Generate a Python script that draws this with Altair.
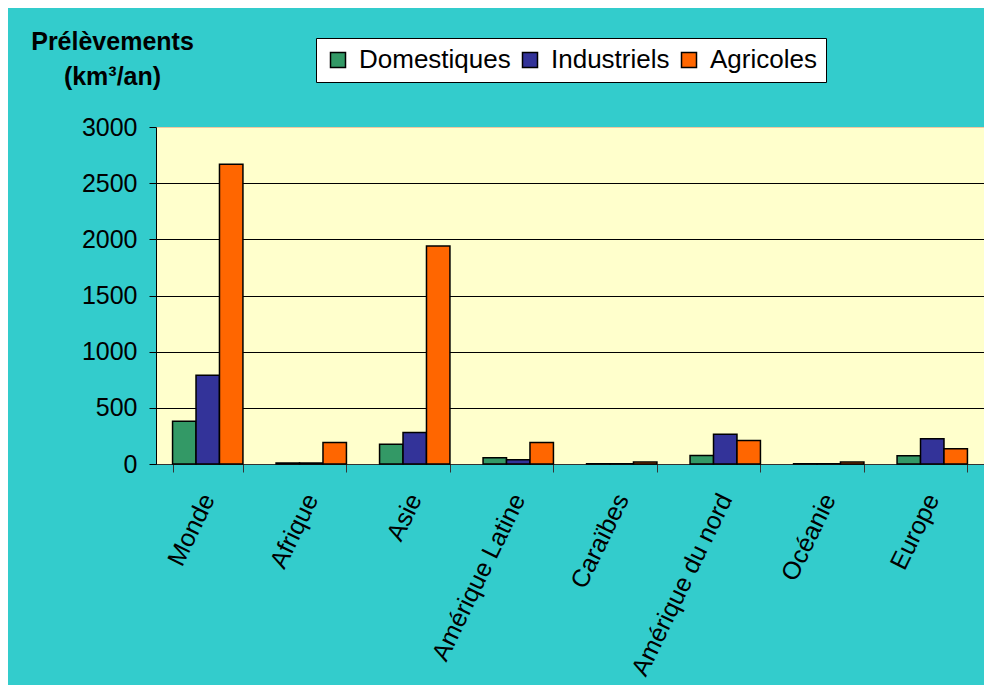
import altair as alt
import pandas as pd

categories = ["Monde", "Afrique", "Asie", "Amérique Latine", "Caraïbes",
              "Amérique du nord", "Océanie", "Europe"]
series = ["Domestiques", "Industriels", "Agricoles"]
domestiques = [380, 10, 175, 55, 2, 75, 2, 74]
industriels = [790, 10, 280, 38, 2, 265, 2, 225]
agricoles = [2668, 192, 1940, 192, 18, 210, 18, 136]
colors = ["#339966", "#333399", "#FF6600"]
y_ticks = [0, 500, 1000, 1500, 2000, 2500, 3000]

rows = []
for i, c in enumerate(categories):
    for s, vals in zip(series, [domestiques, industriels, agricoles]):
        rows.append({"region": c, "type": s, "value": vals[i]})
df = pd.DataFrame(rows)

FONT = "Liberation Sans"

bars = alt.Chart(df).mark_bar(stroke="black", strokeWidth=1.5).encode(
    x=alt.X("region:N", sort=categories,
            scale=alt.Scale(paddingInner=0.32, paddingOuter=0.16),
            axis=alt.Axis(title=None, labelAngle=-64, labelAlign="right",
                          labelBaseline="middle", labelFontSize=25,
                          labelFont=FONT, labelColor="black", labelPadding=23,
                          tickBand="extent", tickSize=8, tickColor="#333333",
                          domainColor="#333333", labelLimit=400,
                          grid=False)),
    xOffset=alt.XOffset("type:N", sort=series),
    y=alt.Y("value:Q",
            scale=alt.Scale(domain=[0, 3000], nice=False),
            axis=alt.Axis(values=y_ticks, format="d",
                          title=["Prélèvements", "(km³/an)"],
                          titleAngle=0, titleAlign="center",
                          titleBaseline="alphabetic",
                          titleX=-44, titleY=-78, titleFontSize=25,
                          titleFont=FONT, titleFontWeight="bold",
                          titleLineHeight=35, titleColor="black",
                          labelFontSize=25, labelFont=FONT,
                          labelColor="black", labelPadding=12,
                          tickSize=7, tickColor="black", domainColor="black",
                          gridColor={"condition": {"test": "datum.value >= 3000",
                                                   "value": "#F2C8A0"},
                                     "value": "black"},
                          gridWidth=1)),
    color=alt.Color("type:N", sort=series,
                    scale=alt.Scale(domain=series, range=colors),
                    legend=alt.Legend(title=None, orient="none",
                                      legendX=160, legendY=-89,
                                      direction="horizontal",
                                      fillColor="white", strokeColor="black",
                                      padding=9, symbolType="square",
                                      symbolSize=225, symbolStrokeColor="black",
                                      symbolStrokeWidth=1.5,
                                      labelFontSize=26, labelFont=FONT,
                                      labelColor="black", labelOffset=8,
                                      columnPadding=6)),
).properties(
    width=828, height=337,
    background="#33CCCC",
    padding={"left": 148, "top": 119, "right": 0, "bottom": 221},
    autosize=alt.AutoSizeParams(type="none"),
).configure_view(fill="#FFFFCC", stroke=None)

chart = bars
chart.save("out.html", embed_options={"renderer": "svg", "actions": False})
